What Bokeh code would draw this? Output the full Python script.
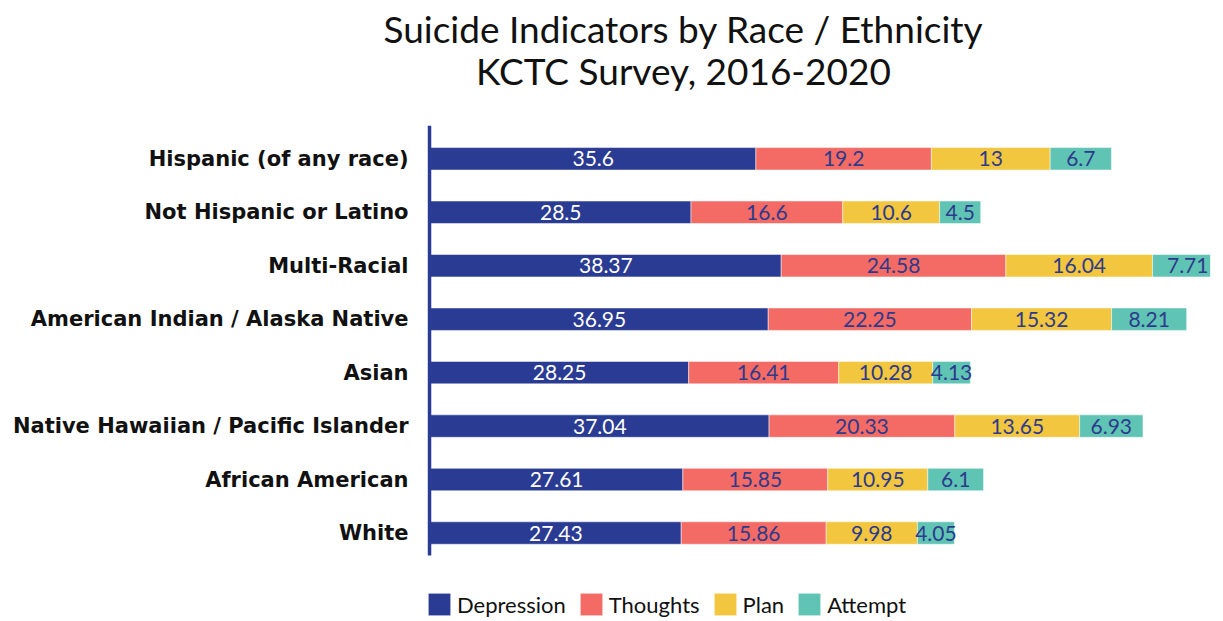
from bokeh.plotting import figure
from bokeh.models import ColumnDataSource, Legend, LegendItem, Range1d
from bokeh.core.properties import value
from bokeh.embed import file_html
from bokeh.resources import INLINE

categories = ["Hispanic (of any race)", "Not Hispanic or Latino", "Multi-Racial",
              "American Indian / Alaska Native", "Asian",
              "Native Hawaiian / Pacific Islander", "African American", "White"]
series = ["Depression", "Thoughts", "Plan", "Attempt"]
depression = [35.6, 28.5, 38.37, 36.95, 28.25, 37.04, 27.61, 27.43]
thoughts = [19.2, 16.6, 24.58, 22.25, 16.41, 20.33, 15.85, 15.86]
plan = [13, 10.6, 16.04, 15.32, 10.28, 13.65, 10.95, 9.98]
attempt = [6.7, 4.5, 7.71, 8.21, 4.13, 6.93, 6.1, 4.05]
colors = ["#2A3B93", "#F36B64", "#F2C63F", "#5FC4B4"]
label_colors = ["#FFFFFF", "#2E3A8C", "#2E3A8C", "#2E3A8C"]
title_lines = ["Suicide Indicators by Race / Ethnicity", "KCTC Survey, 2016-2020"]

FONT = "Lato"
n = len(categories)
ypos = [n - 1 - i for i in range(n)]   # first category at the top
data = dict(y=ypos, Depression=depression, Thoughts=thoughts, Plan=plan, Attempt=attempt)
source = ColumnDataSource(data)

# layout: the frame covers the whole canvas so title, labels and legend sit inside it
TITLE_X, TITLE_Y = 27.68, [9.437, 8.652]
CAT_LABEL_X = -2.407

p = figure(width=1215, height=618, output_backend="svg", toolbar_location=None,
           x_range=Range1d(-47.05, 85.34), y_range=Range1d(-1.599, 9.961),
           min_border_left=0, min_border_right=5, min_border_top=0, min_border_bottom=0)

renderers = p.hbar_stack(series, y="y", height=0.42, color=colors, source=source,
                         line_color="white", line_width=0.5)

# axis rule at the bars' base
p.segment(x0=[-0.11], y0=[-0.42], x1=[-0.11], y1=[7.62], line_color="#2A3B93", line_width=3.5)

vals = [depression, thoughts, plan, attempt]
cum = [0.0] * n
for k, vs in enumerate(vals):
    xs = [c + v / 2 for c, v in zip(cum, vs)]
    cum = [c + v for c, v in zip(cum, vs)]
    txt = [f"{v:g}" for v in vs]
    lsrc = ColumnDataSource(dict(x=xs, y=ypos, t=txt))
    p.text(x="x", y="y", text="t", source=lsrc, text_align="center", text_baseline="middle",
           text_color=label_colors[k], text_font=value(FONT), text_font_size="21px")

# category labels
csrc = ColumnDataSource(dict(x=[CAT_LABEL_X] * n, y=ypos, t=categories))
p.text(x="x", y="y", text="t", source=csrc, text_align="right", text_baseline="middle",
       text_color="#111111", text_font=value("DejaVu Sans"), text_font_style="bold",
       text_font_size="21px")

# title
p.text(x=[TITLE_X, TITLE_X], y=TITLE_Y, text=title_lines, text_align="center",
       text_baseline="middle", text_color="#111111", text_font=value(FONT),
       text_font_size="37px")

legend = Legend(items=[LegendItem(label=s, renderers=[r]) for s, r in zip(series, renderers)],
                orientation="horizontal", location=(425, 0),
                glyph_width=28, glyph_height=28, label_standoff=4, spacing=11,
                label_height=28, label_text_baseline="middle",
                label_text_font=FONT, label_text_font_size="22px", label_text_color="#111111",
                border_line_color=None, background_fill_alpha=0, padding=0, margin=0)
p.add_layout(legend)

p.xaxis.visible = False
p.yaxis.visible = False
p.xgrid.visible = False
p.ygrid.visible = False
p.outline_line_color = None

open("out.html", "w").write(file_html(p, INLINE))
